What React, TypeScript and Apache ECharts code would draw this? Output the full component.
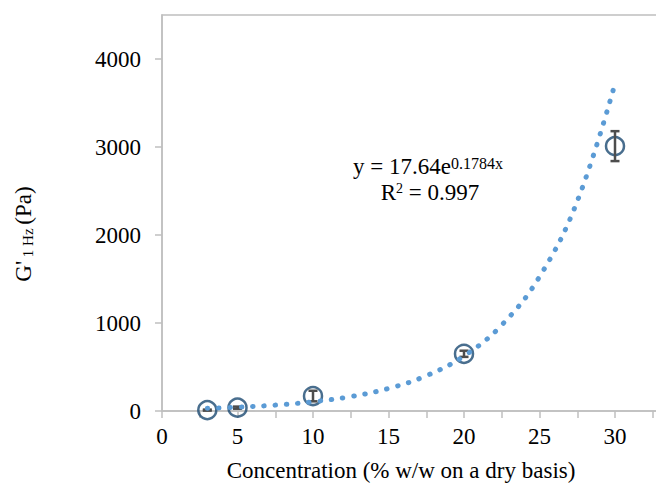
import React, { useEffect, useRef } from "react";
import * as echarts from "echarts";

const concentrations = [3, 5, 10, 20, 30];
const gValues = [10, 38, 170, 650, 3010];
const gErrors = [6, 12, 60, 35, 170];

const trendX = [3, 5, 7.5, 10, 12.5, 15, 17.5, 20, 22.5, 25, 27.5, 30];
const trendY = [30, 43, 67, 105, 164, 256, 400, 625, 977, 1525, 2383, 3720];

const xTicks = [0, 2.5, 5, 7.5, 10, 12.5, 15, 17.5, 20, 22.5, 25, 27.5, 30, 32.5, 35];
const xLabels = [0, 5, 10, 15, 20, 25, 30];
const yTicks = [0, 1000, 2000, 3000, 4000];

const FONT = "Liberation Serif, Times New Roman, serif";
const FS = 23;
const SUB = 16;

export default function App() {
  const ref = useRef<HTMLDivElement>(null);
  useEffect(() => {
    const chart = echarts.init(ref.current!, null, { renderer: "svg" });
    const axisLine = { show: true, lineStyle: { color: "#BFBFBF", width: 1.5 } };
    chart.setOption({
      animation: false,
      textStyle: { fontFamily: FONT },
      grid: {
        left: 162,
        top: 15,
        width: 528.5,
        height: 396,
        outerBoundsMode: "none",
        containLabel: false,
        show: true,
        borderColor: "#BFBFBF",
        borderWidth: 1.5,
        backgroundColor: "transparent",
      },
      xAxis: {
        type: "value",
        min: 0,
        max: 35,
        axisLine,
        splitLine: { show: false },
        axisTick: { show: true, length: 7, customValues: xTicks, lineStyle: { color: "#BFBFBF", width: 1.5 } },
        axisLabel: {
          customValues: xLabels,
          formatter: (v: number) => String(v),
          margin: 14,
          color: "#000",
          fontFamily: FONT,
          fontSize: FS,
        },
      },
      yAxis: {
        type: "value",
        min: 0,
        max: 4500,
        axisLine,
        splitLine: { show: false },
        axisTick: { show: true, length: 7, customValues: yTicks, lineStyle: { color: "#BFBFBF", width: 1.5 } },
        axisLabel: {
          customValues: yTicks,
          formatter: (v: number) => String(v),
          margin: 21,
          color: "#000",
          fontFamily: FONT,
          fontSize: FS,
        },
      },
      graphic: [
        {
          type: "text",
          x: 401,
          y: 470,
          style: {
            text: "Concentration (% w/w on a dry basis)",
            fontFamily: FONT,
            fontSize: FS,
            fill: "#000",
            textAlign: "center",
            textVerticalAlign: "middle",
          },
        },
        {
          type: "text",
          x: 22,
          y: 234,
          rotation: Math.PI / 2,
          style: {
            text: "{a|G'}{s| 1 Hz }{a|(Pa)}",
            fontFamily: FONT,
            fill: "#000",
            textAlign: "center",
            textVerticalAlign: "middle",
            rich: {
              a: { fontSize: FS, fontFamily: FONT, fill: "#000", verticalAlign: "bottom", lineHeight: 26 },
              s: { fontSize: 15, fontFamily: FONT, fill: "#000", verticalAlign: "bottom", lineHeight: 20 },
            },
          },
        },
        {
          type: "text",
          x: 428,
          y: 168,
          style: {
            text: "{a|y = 17.64e}{s|0.1784x}",
            fontFamily: FONT,
            fill: "#000",
            textAlign: "center",
            textVerticalAlign: "middle",
            rich: {
              a: { fontSize: FS, fontFamily: FONT, fill: "#000", verticalAlign: "top", lineHeight: 26 },
              s: { fontSize: SUB, fontFamily: FONT, fill: "#000", verticalAlign: "top", lineHeight: 16 },
            },
          },
        },
        {
          type: "text",
          x: 430,
          y: 194,
          style: {
            text: "{a|R}{s|2}{a| = 0.997}",
            fontFamily: FONT,
            fill: "#000",
            textAlign: "center",
            textVerticalAlign: "middle",
            rich: {
              a: { fontSize: FS, fontFamily: FONT, fill: "#000", verticalAlign: "top", lineHeight: 26 },
              s: { fontSize: 14, fontFamily: FONT, fill: "#000", verticalAlign: "top", lineHeight: 15 },
            },
          },
        },
      ],
      series: [
        {
          type: "scatter",
          z: 2,
          symbol: "circle",
          symbolSize: 18,
          itemStyle: { color: "rgba(0,0,0,0)", borderColor: "#1B4A72", borderWidth: 2.5 },
          data: concentrations.map((x, i) => [x, gValues[i]]),
        },
        {
          type: "custom",
          z: 3,
          data: concentrations.map((x, i) => [x, gValues[i] - gErrors[i], gValues[i] + gErrors[i]]),
          renderItem: (params: any, api: any) => {
            const lo = api.coord([api.value(0), api.value(1)]);
            const hi = api.coord([api.value(0), api.value(2)]);
            const w = 4.5;
            const style = { stroke: "#4D4D4D", lineWidth: 2.5 };
            return {
              type: "group",
              children: [
                { type: "line", shape: { x1: lo[0], y1: lo[1], x2: hi[0], y2: hi[1] }, style },
                { type: "line", shape: { x1: lo[0] - w, y1: lo[1], x2: lo[0] + w, y2: lo[1] }, style },
                { type: "line", shape: { x1: hi[0] - w, y1: hi[1], x2: hi[0] + w, y2: hi[1] }, style },
              ],
            };
          },
        },
        {
          type: "line",
          z: 4,
          smooth: 0.4,
          showSymbol: false,
          symbol: "none",
          lineStyle: { color: "#5B9BD5", width: 5, type: [0.5, 10.8], cap: "round" },
          data: trendX.map((x, i) => [x, trendY[i]]),
        },
      ],
    });
    return () => chart.dispose();
  }, []);
  return (
    <div
      ref={ref}
      style={{ position: "fixed", left: 0, top: 0, width: 656, height: 487, background: "#fff" }}
    />
  );
}
